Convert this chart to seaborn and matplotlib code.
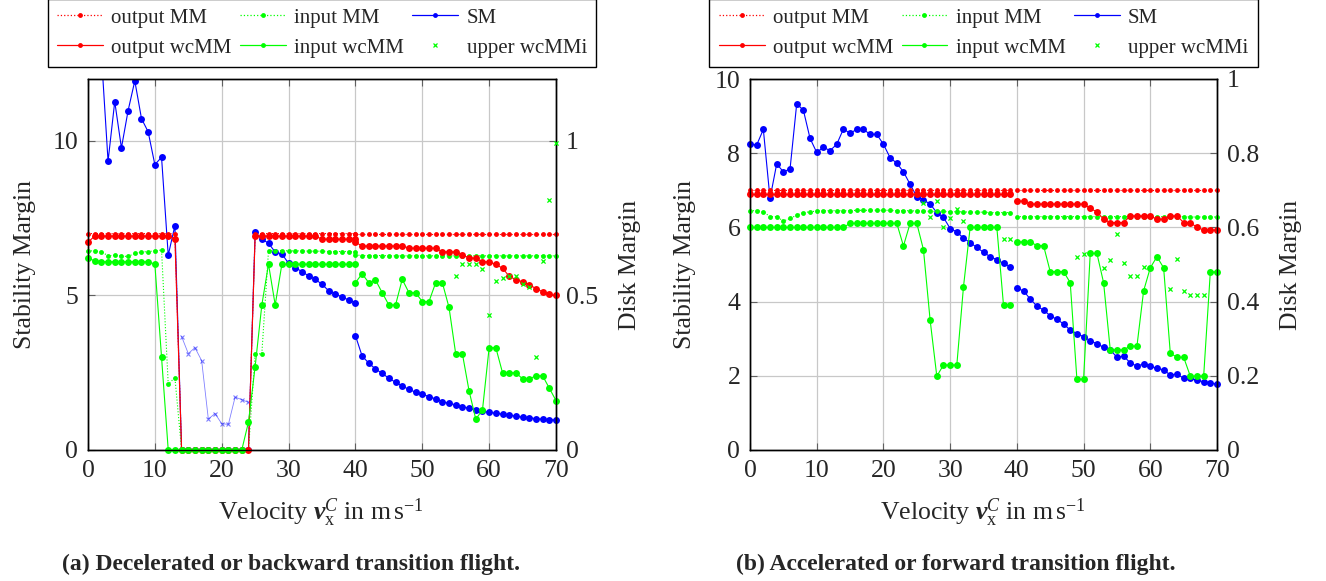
import matplotlib
matplotlib.use("Agg")
import matplotlib.pyplot as plt
from matplotlib.lines import Line2D
from matplotlib.ticker import FormatStrFormatter
import seaborn as sns

# ---------------- data: (a) decelerated / backward transition ----------------
va1 = list(range(0, 41))
va2 = list(range(40, 71))
va_uns = list(range(14, 25))
va_up = list(range(55, 71))

sm_a1 = [13.0, 14.0, 12.8, 9.34, 11.27, 9.77, 10.98, 11.94, 10.72, 10.29,
         9.23, 9.47, 6.30, 7.26, 0.0, 0.0, 0.0, 0.0, 0.0, 0.0,
         0.0, 0.0, 0.0, 0.0, 0.0, 7.04, 6.82, 6.69, 6.40, 6.34,
         6.04, 5.90, 5.77, 5.63, 5.52, 5.36, 5.15, 5.04, 4.95, 4.85,
         4.76]
sm_a2 = [3.70, 3.04, 2.81, 2.62, 2.48, 2.32, 2.19, 2.07, 1.96, 1.87,
         1.80, 1.73, 1.65, 1.56, 1.51, 1.46, 1.40, 1.35, 1.29, 1.26,
         1.22, 1.19, 1.16, 1.12, 1.10, 1.06, 1.05, 1.01, 1.00, 0.98,
         0.97]
sm_a_uns = [3.67, 3.12, 3.31, 2.89, 1.00, 1.18, 0.85, 0.83, 1.71, 1.63, 1.54]

out_mm_a1 = [0.70, 0.70, 0.70, 0.70, 0.70, 0.70, 0.70, 0.70, 0.70, 0.70,
             0.70, 0.70, 0.70, 0.70, 0.0, 0.0, 0.0, 0.0, 0.0, 0.0,
             0.0, 0.0, 0.0, 0.0, 0.0, 0.70, 0.70, 0.70, 0.70, 0.70,
             0.70, 0.70, 0.70, 0.70, 0.70, 0.70, 0.70, 0.70, 0.70, 0.70,
             0.70]
out_mm_a2 = [0.70, 0.70, 0.70, 0.70, 0.70, 0.70, 0.70, 0.70, 0.70, 0.70,
             0.70, 0.70, 0.70, 0.70, 0.70, 0.70, 0.70, 0.70, 0.70, 0.70,
             0.70, 0.70, 0.70, 0.70, 0.70, 0.70, 0.70, 0.70, 0.70, 0.70,
             0.70]
out_wc_a1 = [0.672, 0.692, 0.692, 0.692, 0.692, 0.692, 0.692, 0.692, 0.692, 0.692,
             0.692, 0.692, 0.692, 0.682, 0.0, 0.0, 0.0, 0.0, 0.0, 0.0,
             0.0, 0.0, 0.0, 0.0, 0.0, 0.692, 0.692, 0.692, 0.692, 0.692,
             0.692, 0.692, 0.692, 0.692, 0.692, 0.682, 0.682, 0.682, 0.682, 0.682,
             0.682]
out_wc_a2 = [0.672, 0.660, 0.660, 0.660, 0.660, 0.660, 0.660, 0.660, 0.653, 0.653,
             0.653, 0.653, 0.653, 0.641, 0.641, 0.641, 0.630, 0.622, 0.620, 0.609,
             0.609, 0.600, 0.588, 0.562, 0.551, 0.544, 0.535, 0.522, 0.512, 0.503,
             0.500]
in_mm_a1 = [0.645, 0.643, 0.642, 0.628, 0.630, 0.627, 0.626, 0.636, 0.640, 0.642,
            0.644, 0.647, 0.213, 0.234, 0.0, 0.0, 0.0, 0.0, 0.0, 0.0,
            0.0, 0.0, 0.0, 0.0, 0.0, 0.311, 0.311, 0.645, 0.645, 0.645,
            0.644, 0.644, 0.644, 0.643, 0.643, 0.643, 0.642, 0.642, 0.642, 0.642,
            0.641]
in_mm_a2 = [0.631, 0.629, 0.629, 0.629, 0.629, 0.628, 0.628, 0.628, 0.628, 0.628,
            0.628, 0.628, 0.628, 0.628, 0.628, 0.628, 0.628, 0.628, 0.628, 0.628,
            0.628, 0.628, 0.628, 0.628, 0.628, 0.628, 0.628, 0.628, 0.628, 0.628,
            0.628]
in_wc_a1 = [0.620, 0.612, 0.609, 0.609, 0.609, 0.609, 0.609, 0.609, 0.609, 0.609,
            0.601, 0.300, 0.0, 0.0, 0.0, 0.0, 0.0, 0.0, 0.0, 0.0,
            0.0, 0.0, 0.0, 0.0, 0.090, 0.270, 0.469, 0.601, 0.469, 0.601,
            0.601, 0.601, 0.601, 0.601, 0.601, 0.601, 0.601, 0.601, 0.601, 0.601,
            0.601]
in_wc_a2 = [0.541, 0.570, 0.541, 0.550, 0.509, 0.469, 0.469, 0.552, 0.509, 0.509,
            0.480, 0.480, 0.541, 0.541, 0.461, 0.311, 0.311, 0.191, 0.100, 0.129,
            0.331, 0.331, 0.250, 0.250, 0.250, 0.230, 0.230, 0.240, 0.240, 0.200,
            0.160]
up_a = [0.564, 0.603, 0.603, 0.603, 0.585, 0.437, 0.547, 0.556, 0.562, 0.562,
        0.538, 0.526, 0.300, 0.612, 0.809, 0.992]

# ---------------- data: (b) accelerated / forward transition ----------------
vb1 = list(range(0, 40))
vb2 = list(range(40, 71))
vb_up = [26, 27, 28, 29, 30, 31, 32, 38, 39, 49, 50, 53, 54, 55, 56, 57, 58, 59,
         63, 64, 65, 66, 67, 68]

sm_b1 = [8.25, 8.22, 8.64, 6.78, 7.71, 7.50, 7.57, 9.33, 9.16, 8.40,
         8.02, 8.16, 8.07, 8.24, 8.65, 8.54, 8.64, 8.64, 8.51, 8.51,
         8.24, 7.88, 7.73, 7.50, 7.16, 6.83, 6.74, 6.63, 6.40, 6.27,
         5.97, 5.88, 5.71, 5.59, 5.46, 5.33, 5.21, 5.13, 5.03, 4.94]
sm_b2 = [4.36, 4.29, 4.07, 3.88, 3.77, 3.62, 3.52, 3.40, 3.23, 3.14,
         3.05, 2.95, 2.86, 2.77, 2.70, 2.50, 2.53, 2.35, 2.26, 2.32,
         2.26, 2.20, 2.16, 2.02, 2.05, 1.93, 1.93, 1.88, 1.84, 1.81,
         1.77]
out_mm_b1 = [0.70, 0.70, 0.70, 0.70, 0.70, 0.70, 0.70, 0.70, 0.70, 0.70,
             0.70, 0.70, 0.70, 0.70, 0.70, 0.70, 0.70, 0.70, 0.70, 0.70,
             0.70, 0.70, 0.70, 0.70, 0.70, 0.70, 0.70, 0.70, 0.70, 0.70,
             0.70, 0.70, 0.70, 0.70, 0.70, 0.70, 0.70, 0.70, 0.70, 0.70]
out_mm_b2 = [0.70, 0.70, 0.70, 0.70, 0.70, 0.70, 0.70, 0.70, 0.70, 0.70,
             0.70, 0.70, 0.70, 0.70, 0.70, 0.70, 0.70, 0.70, 0.70, 0.70,
             0.70, 0.70, 0.70, 0.70, 0.70, 0.70, 0.70, 0.70, 0.70, 0.70,
             0.70]
out_wc_b1 = [0.690, 0.690, 0.690, 0.690, 0.690, 0.690, 0.690, 0.690, 0.690, 0.690,
             0.690, 0.690, 0.690, 0.690, 0.690, 0.690, 0.690, 0.690, 0.690, 0.690,
             0.690, 0.690, 0.690, 0.690, 0.690, 0.690, 0.690, 0.690, 0.690, 0.690,
             0.690, 0.690, 0.690, 0.690, 0.690, 0.690, 0.690, 0.690, 0.690, 0.690]
out_wc_b2 = [0.671, 0.671, 0.663, 0.663, 0.663, 0.663, 0.663, 0.663, 0.663, 0.663,
             0.663, 0.651, 0.642, 0.622, 0.613, 0.613, 0.613, 0.631, 0.631, 0.631,
             0.631, 0.622, 0.622, 0.631, 0.631, 0.613, 0.613, 0.600, 0.593, 0.593,
             0.593]
in_mm_b1 = [0.645, 0.645, 0.642, 0.629, 0.629, 0.617, 0.624, 0.633, 0.640, 0.642,
            0.644, 0.645, 0.645, 0.645, 0.645, 0.645, 0.646, 0.646, 0.646, 0.646,
            0.646, 0.646, 0.645, 0.645, 0.645, 0.644, 0.644, 0.643, 0.643, 0.643,
            0.642, 0.642, 0.642, 0.641, 0.641, 0.641, 0.640, 0.640, 0.640, 0.640]
in_mm_b2 = [0.629, 0.629, 0.629, 0.629, 0.629, 0.629, 0.629, 0.629, 0.629, 0.629,
            0.629, 0.629, 0.629, 0.629, 0.629, 0.629, 0.629, 0.629, 0.629, 0.629,
            0.629, 0.629, 0.629, 0.629, 0.629, 0.629, 0.628, 0.628, 0.628, 0.628,
            0.628]
in_wc_b1 = [0.600, 0.600, 0.600, 0.600, 0.600, 0.600, 0.600, 0.600, 0.600, 0.600,
            0.600, 0.600, 0.600, 0.600, 0.600, 0.611, 0.611, 0.611, 0.611, 0.611,
            0.611, 0.611, 0.611, 0.550, 0.611, 0.611, 0.540, 0.350, 0.199, 0.229,
            0.229, 0.229, 0.440, 0.600, 0.600, 0.600, 0.600, 0.600, 0.390, 0.390]
in_wc_b2 = [0.561, 0.561, 0.561, 0.551, 0.551, 0.481, 0.481, 0.481, 0.451, 0.191,
            0.191, 0.530, 0.530, 0.451, 0.270, 0.270, 0.270, 0.280, 0.280, 0.429,
            0.491, 0.521, 0.491, 0.261, 0.250, 0.250, 0.199, 0.199, 0.199, 0.480,
            0.480]
up_b = [0.665, 0.629, 0.671, 0.600, 0.624, 0.650, 0.617, 0.568, 0.568, 0.521,
        0.527, 0.490, 0.513, 0.581, 0.505, 0.470, 0.470, 0.493, 0.434, 0.514,
        0.429, 0.419, 0.419, 0.419]

legend_labels = ["output MM", "output wcMM", "input MM", "input wcMM", "SM", "upper wcMMi"]
xlabel = r"Velocity $\mathbfit{v}_{\mathrm{x}}^{C}$ in m$\,$s$^{-1}$"
caption_a = "(a) Decelerated or backward transition flight."
caption_b = "(b) Accelerated or forward transition flight."

# ---------------- style ----------------
sns.set_theme(style="white")
plt.rcParams["font.family"] = ["Liberation Serif", "DejaVu Serif"]
plt.rcParams["mathtext.fontset"] = "custom"
plt.rcParams["mathtext.rm"] = "Liberation Serif"
plt.rcParams["mathtext.it"] = "Liberation Serif:italic"
plt.rcParams["mathtext.bf"] = "Liberation Serif:bold"
try:
    plt.rcParams["mathtext.bfit"] = "Liberation Serif:italic:bold"
except KeyError:
    xlabel = r"Velocity $\mathbf{v}_{\mathrm{x}}^{C}$ in m$\,$s$^{-1}$"

RED, GREEN, BLUE = "#ff0000", "#00ff00", "#0000ff"
TICK, LAB, LEG, CAP = 18.5, 18.5, 15, 17
BIG, SMALL = 5.0, 3.5

W, H = 1326, 581
fig = plt.figure(figsize=(W / 100, H / 100), dpi=100)


def axes_px(x0, x1, y_top, y_bot):
    return fig.add_axes([x0 / W, 1 - y_bot / H, (x1 - x0) / W, (y_bot - y_top) / H])


def ln(ax, x, y, color, ls="-", ms=BIG, lw=0.8, marker="o", clip=False, alpha=1.0,
       z=2, mew=0.0):
    sns.lineplot(x=x, y=y, ax=ax, color=color, linestyle=ls, linewidth=lw,
                 marker=marker, markersize=ms, markeredgewidth=mew,
                 markeredgecolor=color, estimator=None, sort=False,
                 clip_on=clip, alpha=alpha, zorder=z, legend=False)


def style(ax, ax2, ymax, yticks, dmax, dticks):
    ax.set_xlim(0, 70)
    ax.set_ylim(0, ymax)
    ax.set_xticks(range(0, 71, 10))
    ax.set_yticks(yticks)
    ax2.set_ylim(0, dmax)
    ax2.set_yticks(dticks)
    ax2.yaxis.set_major_formatter(FormatStrFormatter("%g"))
    ax.grid(True, color="#c8c8c8", linewidth=0.9)
    ax.set_axisbelow(True)
    for a in (ax, ax2):
        a.set_xlabel("")
        a.set_ylabel("")
        for sp in a.spines.values():
            sp.set_color("black")
            sp.set_linewidth(1.0)
    ax.tick_params(axis="x", direction="in", length=5, width=0.8, color="#606060",
                   labelsize=TICK, bottom=True, top=True, pad=7)
    ax.tick_params(axis="y", direction="in", length=5, width=0.8, color="#606060",
                   labelsize=TICK, left=True, right=False, pad=7)
    ax2.tick_params(axis="y", direction="in", length=5, width=0.8, color="#606060",
                    labelsize=TICK, right=True, pad=7)


def legend(ax):
    h = [
        Line2D([], [], color=RED, ls=":", lw=0.9, marker="o", ms=SMALL, mew=0),
        Line2D([], [], color=RED, ls="-", lw=0.9, marker="o", ms=SMALL, mew=0),
        Line2D([], [], color=GREEN, ls=":", lw=0.9, marker="o", ms=SMALL, mew=0),
        Line2D([], [], color=GREEN, ls="-", lw=0.9, marker="o", ms=SMALL, mew=0),
        Line2D([], [], color=BLUE, ls="-", lw=0.9, marker="o", ms=SMALL, mew=0),
        Line2D([], [], color=GREEN, ls="none", marker="x", ms=3, mew=0.9),
    ]
    leg = ax.legend(h, legend_labels, loc="lower center", bbox_to_anchor=(0.5, 1.0323),
                    ncol=3, frameon=True, fancybox=False, edgecolor="black",
                    framealpha=1, fontsize=LEG, handlelength=2.2, handletextpad=0.4,
                    columnspacing=0.4, labelspacing=0.5, borderpad=0.45,
                    borderaxespad=0)
    leg.get_frame().set_linewidth(1.0)


# ---------------- panel (a) ----------------
axA = axes_px(88, 556, 79, 450)
axA2 = axA.twinx()
ln(axA, va1, sm_a1, BLUE, clip=True)
ln(axA, va2, sm_a2, BLUE, clip=False)
ln(axA, va_uns, sm_a_uns, BLUE, lw=0.6, marker="x", ms=3, alpha=0.5, mew=0.8)
ln(axA2, va1, out_mm_a1, RED, ls=":", ms=SMALL)
ln(axA2, va2, out_mm_a2, RED, ls=":", ms=SMALL)
ln(axA2, va1, in_mm_a1, GREEN, ls=":", ms=SMALL)
ln(axA2, va2, in_mm_a2, GREEN, ls=":", ms=SMALL)
ln(axA2, va1, out_wc_a1, RED)
ln(axA2, va2, out_wc_a2, RED)
ln(axA2, va1, in_wc_a1, GREEN)
ln(axA2, va2, in_wc_a2, GREEN)
sns.scatterplot(x=va_up, y=up_a, ax=axA2, marker="x", color=GREEN, s=9,
                linewidth=0.9, clip_on=False, zorder=3, legend=False)
style(axA, axA2, 12, [0, 5, 10], 1.2, [0, 0.5, 1])
legend(axA2)

# ---------------- panel (b) ----------------
axB = axes_px(750, 1217, 79, 450)
axB2 = axB.twinx()
ln(axB, vb1, sm_b1, BLUE)
ln(axB, vb2, sm_b2, BLUE)
ln(axB2, vb1, out_mm_b1, RED, ls=":", ms=SMALL)
ln(axB2, vb2, out_mm_b2, RED, ls=":", ms=SMALL)
ln(axB2, vb1, in_mm_b1, GREEN, ls=":", ms=SMALL)
ln(axB2, vb2, in_mm_b2, GREEN, ls=":", ms=SMALL)
ln(axB2, vb1, out_wc_b1, RED)
ln(axB2, vb2, out_wc_b2, RED)
ln(axB2, vb1, in_wc_b1, GREEN)
ln(axB2, vb2, in_wc_b2, GREEN)
sns.scatterplot(x=vb_up, y=up_b, ax=axB2, marker="x", color=GREEN, s=9,
                linewidth=0.9, clip_on=False, zorder=3, legend=False)
style(axB, axB2, 10, [0, 2, 4, 6, 8, 10], 1.0, [0, 0.2, 0.4, 0.6, 0.8, 1.0])
legend(axB2)

# ---------------- texts ----------------
ymid = 1 - 264.5 / H
fig.text(25 / W, ymid, "Stability Margin", rotation=90, ha="center", va="center", fontsize=LAB)
fig.text(630 / W, ymid, "Disk Margin", rotation=90, ha="center", va="center", fontsize=LAB)
fig.text(685 / W, ymid, "Stability Margin", rotation=90, ha="center", va="center", fontsize=LAB)
fig.text(1291 / W, ymid, "Disk Margin", rotation=90, ha="center", va="center", fontsize=LAB)
fig.text(321 / W, 1 - 520 / H, xlabel, ha="center", va="baseline", fontsize=LAB)
fig.text(983 / W, 1 - 520 / H, xlabel, ha="center", va="baseline", fontsize=LAB)
fig.text(291 / W, 1 - 570 / H, caption_a, ha="center", va="baseline", fontsize=CAP,
         fontweight="bold")
fig.text(956 / W, 1 - 570 / H, caption_b, ha="center", va="baseline", fontsize=CAP,
         fontweight="bold")

fig.savefig("out.png", dpi=100)
